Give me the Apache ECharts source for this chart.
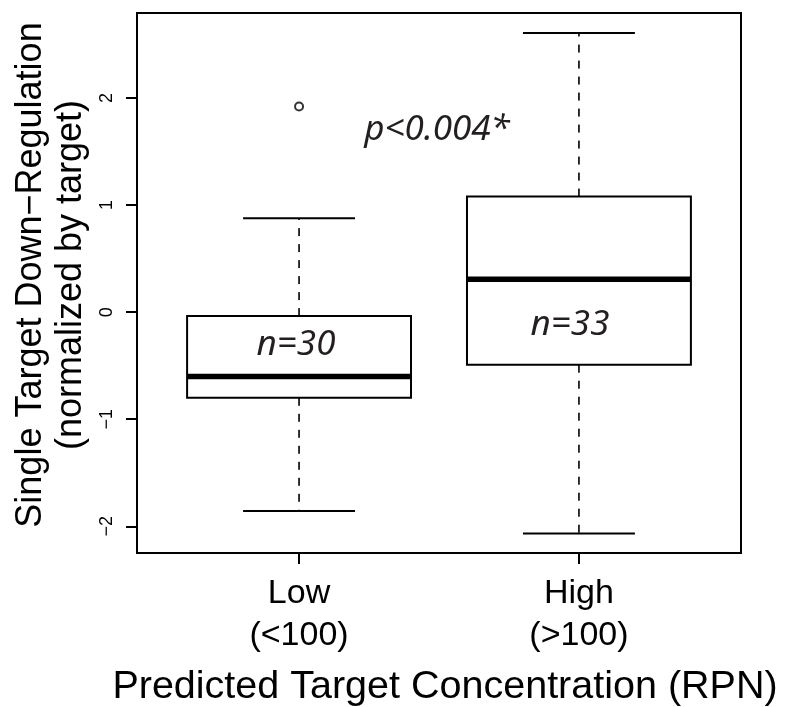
<!DOCTYPE html>
<html>
<head>
<meta charset="utf-8">
<script src="https://cdn.jsdelivr.net/npm/echarts@6/dist/echarts.min.js"></script>
<style>
  html, body { margin: 0; padding: 0; background: #fff; }
  #chart { width: 790px; height: 707px; }
</style>
</head>
<body>
<div id="chart"></div>
<script>
// Group labels on the x axis
const groups = ['Low', 'High'];
const groupRanges = ['(<100)', '(>100)'];
const positions = [1, 2];

// Box-and-whisker statistics per group
const lowerWhisker = [-1.856, -2.067];
const lowerQuartile = [-0.800, -0.491];
const medians = [-0.600, 0.308];
const upperQuartile = [-0.037, 1.079];
const upperWhisker = [0.877, 2.606];

// Points beyond the whiskers: [position, value]
const outliers = [[1, 1.92]];

// Sample sizes and test result
const sampleSizes = [30, 33];
const pValueText = 'p<0.004*';

// Axis ticks
const yTicks = [-2, -1, 0, 1, 2];
const yMin = -2.249, yMax = 2.793;
const xMin = 0.421, xMax = 2.579;

const BOX_HALF = 0.4;   // half box width in x units
const CAP_HALF = 0.2;   // half whisker-cap width

const boxData = positions.map((p, i) => [
  p, lowerWhisker[i], lowerQuartile[i], medians[i], upperQuartile[i], upperWhisker[i]
]);

function renderBox(params, api) {
  const x = api.value(0);
  const y = (v) => api.coord([x, v])[1];
  const cx = api.coord([x, 0])[0];
  const bl = api.coord([x - BOX_HALF, 0])[0];
  const br = api.coord([x + BOX_HALF, 0])[0];
  const cl = api.coord([x - CAP_HALF, 0])[0];
  const cr = api.coord([x + CAP_HALF, 0])[0];
  const yWl = y(api.value(1)), yQ1 = y(api.value(2)), yMed = y(api.value(3));
  const yQ3 = y(api.value(4)), yWh = y(api.value(5));
  const solid = { stroke: '#000', lineWidth: 2, fill: null };
  const dashed = { stroke: '#000', lineWidth: 1.6, lineDash: [8, 8], fill: null };
  return {
    type: 'group',
    children: [
      { type: 'line', shape: { x1: cx, y1: yQ1, x2: cx, y2: yWl }, style: dashed },
      { type: 'line', shape: { x1: cx, y1: yQ3, x2: cx, y2: yWh }, style: dashed },
      { type: 'line', shape: { x1: cl, y1: yWl, x2: cr, y2: yWl }, style: solid },
      { type: 'line', shape: { x1: cl, y1: yWh, x2: cr, y2: yWh }, style: solid },
      { type: 'rect', shape: { x: bl, y: yQ3, width: br - bl, height: yQ1 - yQ3 },
        style: { stroke: '#000', lineWidth: 2, fill: null } },
      { type: 'line', shape: { x1: bl, y1: yMed, x2: br, y2: yMed },
        style: { stroke: '#000', lineWidth: 5.5 } }
    ]
  };
}

const chart = echarts.init(document.getElementById('chart'), null, { renderer: 'canvas' });

const annotationFont = {
  fontFamily: '"Noto Sans", "Open Sans", sans-serif',
  fontStyle: 'italic',
  fontSize: 35,
  fill: '#231f20'
};

function annotation(text, x, y) {
  return {
    type: 'text', x: x, y: y, z: 100,
    style: Object.assign({ text: text, align: 'center', verticalAlign: 'middle' }, annotationFont)
  };
}

chart.setOption({
  animation: false,
  backgroundColor: '#fff',
  grid: {
    left: 137, right: 49, top: 13, bottom: 154,
    show: true, borderColor: '#000', borderWidth: 2,
    outerBoundsMode: 'none'
  },
  xAxis: {
    type: 'value',
    min: xMin, max: xMax,
    splitLine: { show: false },
    axisLine: { show: true, onZero: false, lineStyle: { color: '#000', width: 2 } },
    axisTick: { show: true, customValues: positions, length: 11, lineStyle: { color: '#000', width: 2 } },
    axisLabel: {
      customValues: positions,
      formatter: (v) => {
        const i = positions.indexOf(Math.round(v));
        return groups[i] + '\n' + groupRanges[i];
      },
      color: '#000',
      fontFamily: '"Liberation Sans", Arial, sans-serif',
      fontSize: 34,
      lineHeight: 42,
      margin: 20
    }
  },
  yAxis: {
    type: 'value',
    min: yMin, max: yMax,
    splitLine: { show: false },
    axisLine: { show: true, onZero: false, lineStyle: { color: '#000', width: 2 } },
    axisTick: { show: true, customValues: yTicks, length: 11, lineStyle: { color: '#000', width: 2 } },
    axisLabel: {
      customValues: yTicks,
      formatter: (v) => String(Math.round(v)).replace('-', '\u2212'),
      rotate: 90,
      color: '#000',
      fontFamily: '"Liberation Sans", Arial, sans-serif',
      fontSize: 18,
      margin: 21
    }
  },
  graphic: [
    {
      type: 'text', x: 51, y: 275, rotation: Math.PI / 2,
      style: {
        text: 'Single Target Down\u2212Regulation\n(normalized by target)',
        fontFamily: '"Liberation Sans", Arial, sans-serif',
        fontSize: 36, lineHeight: 40,
        align: 'center', verticalAlign: 'middle', fill: '#000'
      }
    },
    {
      type: 'text', x: 445, y: 687,
      style: {
        text: 'Predicted Target Concentration (RPN)',
        fontFamily: '"Liberation Sans", Arial, sans-serif',
        fontSize: 39.5,
        align: 'center', verticalAlign: 'middle', fill: '#000'
      }
    },
    annotation(pValueText, 437, 130),
    annotation('n=' + sampleSizes[0], 296, 345),
    annotation('n=' + sampleSizes[1], 570, 325)
  ],
  series: [
    {
      type: 'custom',
      renderItem: renderBox,
      data: boxData,
      encode: { x: 0, y: [1, 2, 3, 4, 5] },
      z: 2
    },
    {
      type: 'scatter',
      data: outliers,
      symbol: 'circle',
      symbolSize: 8,
      itemStyle: { color: '#fff', borderColor: '#000', borderWidth: 2 },
      z: 3
    }
  ]
});
</script>
</body>
</html>
